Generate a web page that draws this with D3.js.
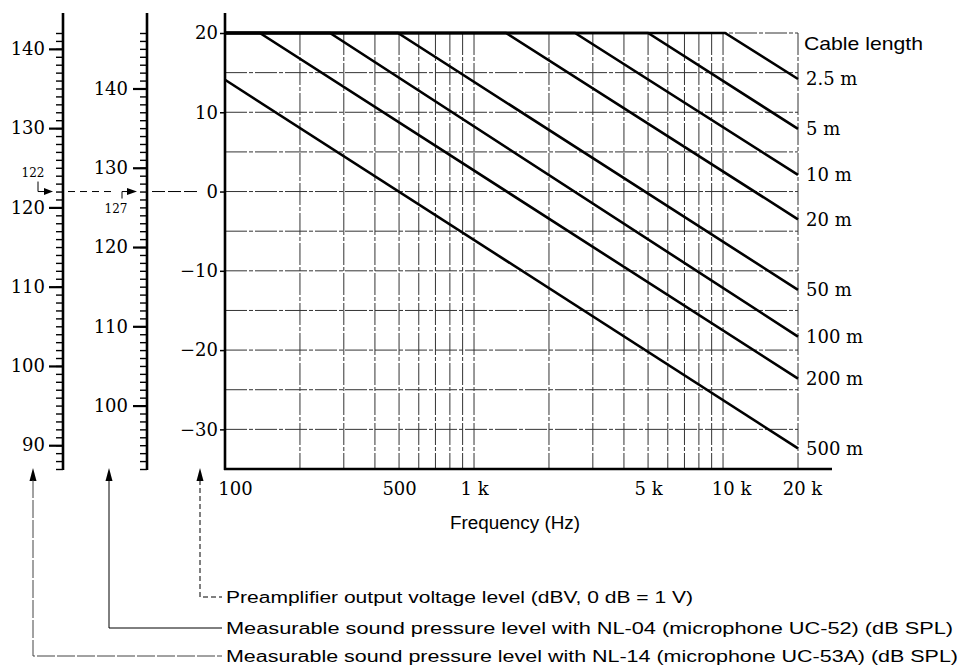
<!DOCTYPE html>
<html><head><meta charset="utf-8">
<script src="https://cdn.jsdelivr.net/npm/d3@7"></script>
<style>body{margin:0;background:#fff}svg{display:block}</style>
</head><body>
<svg id="c" width="962" height="666"></svg>
<script>
// ---- data ----
const cableLabels = ["2.5 m", "5 m", "10 m", "20 m", "50 m", "100 m", "200 m", "500 m"];
const breakFreq   = [10190, 5000, 2545, 1344, 495, 264, 138, null]; // Hz where line leaves 20 dBV
const startLevel  = [20, 20, 20, 20, 20, 20, 20, 14.1];              // dBV at 100 Hz
const endLevel    = [14.2, 7.9, 2.1, -3.5, -12.4, -18.3, -23.6, -32.4]; // dBV at 20 kHz
const xTickValues = [100, 500, 1000, 5000, 10000, 20000];
const xTickLabels = ["100", "500", "1 k", "5 k", "10 k", "20 k"];
const xGridValues = [200, 300, 400, 500, 600, 700, 800, 900, 1000, 2000, 3000, 4000, 5000, 6000, 7000, 8000, 9000, 10000, 20000];
const dBVTicks = [-30, -20, -10, 0, 10, 20];
const dBVGrid = [-30, -25, -20, -15, -10, -5, 0, 5, 10, 15, 20];
const nl14Major = [90, 100, 110, 120, 130, 140];
const nl04Major = [100, 110, 120, 130, 140];
const nl14Ref = 122, nl04Ref = 127;   // SPL equal to 0 dBV
const notes = [
  "Preamplifier output voltage level (dBV, 0 dB = 1 V)",
  "Measurable sound pressure level with NL-04 (microphone UC-52) (dB SPL)",
  "Measurable sound pressure level with NL-14 (microphone UC-53A) (dB SPL)"
];

// ---- scales ----
const svg = d3.select("#c");
const dBVDomain = [-35, 20];
const x = d3.scaleLog().domain([100, 20000]).range([225, 798]);
const y = d3.scaleLinear().domain(dBVDomain).range([469, 33]);
const yNL14 = d3.scaleLinear().domain([nl14Ref + dBVDomain[0], nl14Ref + dBVDomain[1]]).range([469, 33]);
const yNL04 = d3.scaleLinear().domain([nl04Ref + dBVDomain[0], nl04Ref + dBVDomain[1]]).range([469, 33]);
const serif = "'DejaVu Serif', 'Liberation Serif', serif";
const sans = "'Liberation Sans Narrow', 'Arial Narrow', 'Liberation Sans', Arial, sans-serif";

// ---- grid ----
const grid = svg.append("g").attr("stroke", "#333").attr("stroke-width", 1).attr("stroke-dasharray", "22,2,4,2");
grid.selectAll("line.v").data(xGridValues).join("line").attr("class", "v")
  .attr("x1", d => x(d)).attr("x2", d => x(d)).attr("y1", y(20)).attr("y2", y(-35));
grid.selectAll("line.h").data(dBVGrid).join("line").attr("class", "h")
  .attr("x1", x(100)).attr("x2", x(20000)).attr("y1", d => y(d)).attr("y2", d => y(d));

// ---- curves ----
const curves = cableLabels.map((c, i) => breakFreq[i] == null
  ? [[100, startLevel[i]], [20000, endLevel[i]]]
  : [[100, startLevel[i]], [breakFreq[i], 20], [20000, endLevel[i]]]);
const line = d3.line().x(d => x(d[0])).y(d => y(d[1]));
svg.append("g").selectAll("path").data(curves).join("path")
  .attr("d", line).attr("fill", "none").attr("stroke", "#000").attr("stroke-width", 2.6)
  .attr("stroke-linejoin", "miter");

svg.append("g").selectAll("text").data(cableLabels).join("text")
  .attr("x", x(20000) + 8).attr("y", (d, i) => y(endLevel[i]))
  .attr("dominant-baseline", "central")
  .attr("font-family", serif).attr("font-size", 18).text(d => d);

svg.append("text").attr("x", 804).attr("y", 50).attr("font-family", "'Liberation Sans', Arial, sans-serif")
  .attr("font-size", 19).attr("textLength", 119).attr("lengthAdjust", "spacingAndGlyphs").text("Cable length");

// ---- main axes ----
const gy = svg.append("g").attr("transform", `translate(${x(100)},0)`)
  .call(d3.axisLeft(y).tickValues(dBVTicks).tickSize(5).tickPadding(2));
gy.select(".domain").remove();
gy.selectAll(".tick line").attr("stroke-width", 1.5);
gy.selectAll("text").attr("font-family", serif).attr("font-size", 18).attr("fill", "#000");
svg.append("line").attr("x1", x(100)).attr("x2", x(100)).attr("y1", y(20) - 20).attr("y2", y(-35) + 1)
  .attr("stroke", "#000").attr("stroke-width", 2.6);

const gx = svg.append("g").attr("transform", `translate(0,${y(-35)})`)
  .call(d3.axisBottom(x).tickValues(xTickValues).tickSize(0).tickPadding(13).tickFormat((d, i) => xTickLabels[i]));
gx.select(".domain").remove();
gx.selectAll("text").attr("font-family", serif).attr("font-size", 18).attr("fill", "#000");
gx.selectAll("text").filter((d, i) => i === 0).attr("dx", 10);
gx.selectAll("text").filter((d, i) => i === 4).attr("dx", 8);
gx.selectAll("text").filter((d, i) => i === 5).attr("dx", 4);
svg.append("line").attr("x1", x(100) - 1).attr("x2", x(20000) + 34).attr("y1", y(-35)).attr("y2", y(-35))
  .attr("stroke", "#000").attr("stroke-width", 2.6);

svg.append("text").attr("x", 515).attr("y", 523).attr("text-anchor", "middle").attr("dominant-baseline", "central")
  .attr("font-family", "'Liberation Sans', Arial, sans-serif").attr("font-size", 18)
  .attr("textLength", 130).attr("lengthAdjust", "spacingAndGlyphs").text("Frequency (Hz)");

// ---- SPL side axes ----
function sideAxis(scale, xPos, major, pad) {
  const [lo, hi] = scale.domain();
  const g = svg.append("g").attr("transform", `translate(${xPos},0)`);
  const gMin = g.append("g").call(d3.axisLeft(scale).tickValues(d3.range(lo, hi + 1)).tickSize(7).tickFormat(""));
  gMin.select(".domain").remove();
  gMin.selectAll(".tick line").attr("stroke-width", 1.4);
  const gMaj = g.append("g").call(d3.axisLeft(scale).tickValues(major).tickSize(14).tickPadding(pad).tickFormat(d3.format("d")));
  gMaj.select(".domain").remove();
  gMaj.selectAll(".tick line").attr("stroke-width", 2.2);
  gMaj.selectAll("text").attr("font-family", serif).attr("font-size", 18).attr("fill", "#000");
  g.append("line").attr("x1", 0).attr("x2", 0).attr("y1", scale.range()[1] - 20).attr("y2", scale.range()[0] + 1)
    .attr("stroke", "#000").attr("stroke-width", 2.6);
}
sideAxis(yNL14, 63, nl14Major, 4);
sideAxis(yNL04, 147, nl04Major, 5);

// ---- 0 dBV reference connectors ----
const y0 = y(0);
const conn = svg.append("g").attr("stroke", "#000").attr("fill", "none");
conn.append("line").attr("x1", 68).attr("x2", 116).attr("y1", y0).attr("y2", y0).attr("stroke-width", 1).attr("stroke-dasharray", "7,5");
conn.append("line").attr("x1", 152).attr("x2", 199).attr("y1", y0).attr("y2", y0).attr("stroke-width", 1).attr("stroke-dasharray", "13,3");
// 122 marker
conn.append("path").attr("d", `M38,${yNL14(nl14Ref) - 10}V${yNL14(nl14Ref)}H45`).attr("stroke-width", 1);
svg.append("path").attr("d", `M44,${y0 - 3.5}L53,${y0}L44,${y0 + 3.5}Z`).attr("fill", "#000");
svg.append("text").attr("x", 33).attr("y", y0 - 19).attr("text-anchor", "middle").attr("dominant-baseline", "central")
  .attr("font-family", serif).attr("font-size", 12).text(String(nl14Ref));
// 127 marker
conn.append("path").attr("d", `M122,${yNL04(nl04Ref) + 7}V${yNL04(nl04Ref)}H128`).attr("stroke-width", 1);
svg.append("path").attr("d", `M127,${y0 - 3.5}L137,${y0}L127,${y0 + 3.5}Z`).attr("fill", "#000");
svg.append("text").attr("x", 116).attr("y", y0 + 17).attr("text-anchor", "middle").attr("dominant-baseline", "central")
  .attr("font-family", serif).attr("font-size", 12).text(String(nl04Ref));

// ---- bottom annotations ----
const arrowX = [200, 109, 33];
const noteY = [597, 628, 656];
const noteWidth = [467, 727, 732];
const dashes = ["5,3", null, "18,2"];
const strokes = ["#000", "#000", "#444"];
notes.forEach((t, i) => {
  const ax = arrowX[i];
  svg.append("path").attr("d", `M${ax - 3.5},481L${ax},468L${ax + 3.5},481Z`).attr("fill", "#000");
  const p = svg.append("path").attr("d", `M${ax},480V${noteY[i]}H222`).attr("fill", "none")
    .attr("stroke", strokes[i]).attr("stroke-width", 1);
  if (dashes[i]) p.attr("stroke-dasharray", dashes[i]);
  svg.append("text").attr("x", 226).attr("y", noteY[i]).attr("dominant-baseline", "central")
    .attr("font-family", sans).attr("font-size", 16)
    .attr("textLength", noteWidth[i]).attr("lengthAdjust", "spacingAndGlyphs").text(t);
});
</script>
</body></html>
